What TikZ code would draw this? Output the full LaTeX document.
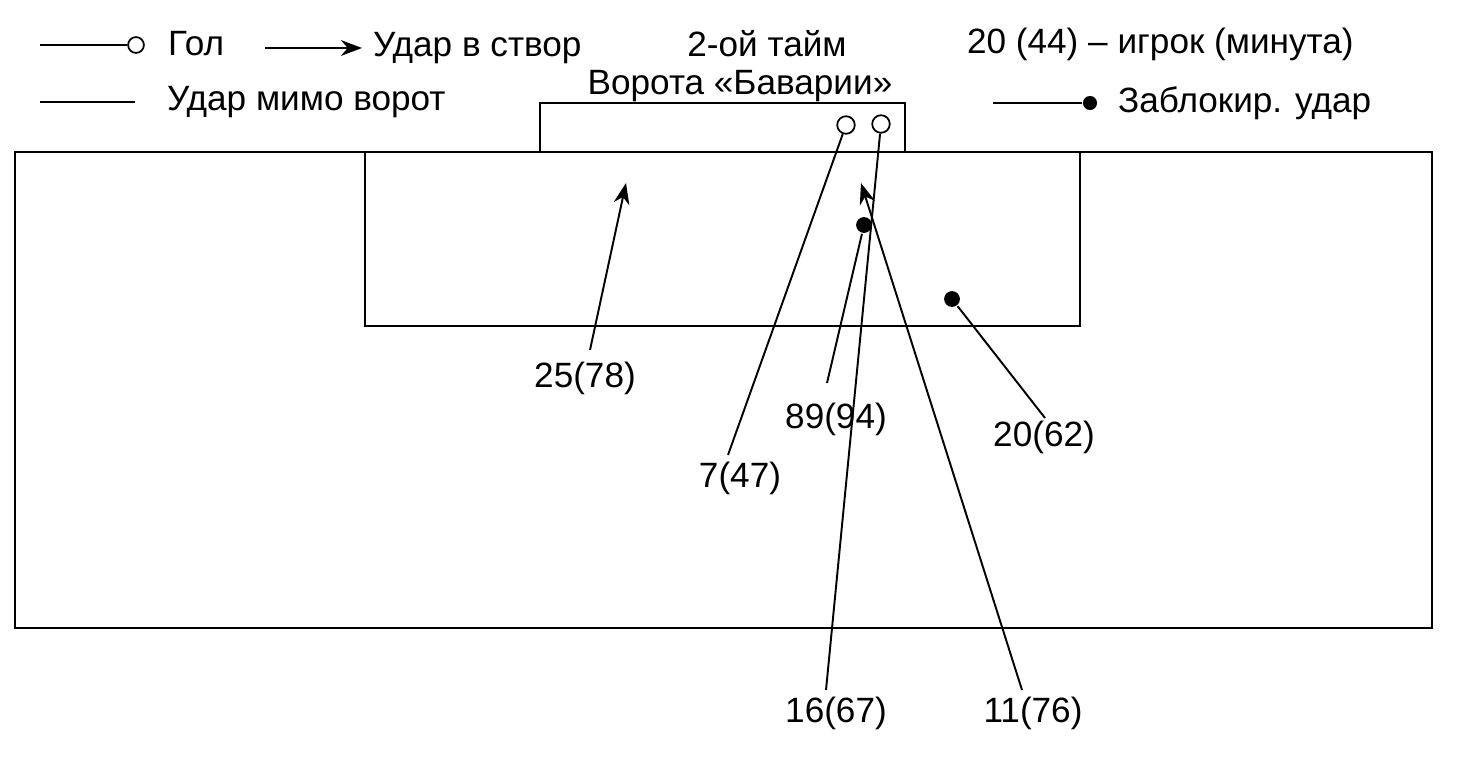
\documentclass[tikz,border=0pt]{standalone}
\usepackage{fontspec}
\setmainfont{Liberation Sans}
\usetikzlibrary{arrows.meta}
\begin{document}
\begin{tikzpicture}[x=0.02cm,y=-0.02cm,line width=1.3pt,
  lbl/.style={font=\fontsize{20}{24}\selectfont,inner sep=0pt},
  goal/.style={circle,draw,fill=white,line width=1pt,minimum size=10pt,inner sep=0pt},
  blk/.style={circle,fill=black,minimum size=9pt,inner sep=0pt},
  shot/.style={line width=1.1pt},
  arr/.style={line width=1.1pt,-{Stealth[length=12pt,width=9pt]}}]
\useasboundingbox (0,0) rectangle (1460,757);
\draw (15,152) rectangle (1432,628);
\draw (365,152) -- (365,326) -- (1080,326) -- (1080,152);
\draw (540,152) -- (540,103) -- (905,103) -- (905,152);
% legend
\coordinate (l1a) at (40,45); \node[goal,minimum size=9pt] (l1b) at (136,45) {};
\draw[shot] (l1a) -- (l1b);
\node[lbl,anchor=west] (t1) at (167,44) {Гол};
\coordinate (l2a) at (265,48); \coordinate (l2b) at (362,48);
\draw[arr] (l2a) -- (l2b);
\node[lbl,anchor=west] (t2) at (372,48) {Удар в створ};
\node[lbl] (t3) at (767,44) {2-ой тайм};
\node[lbl,anchor=west] (t4) at (966,44) {20 (44) – игрок (минута)};
\coordinate (l3a) at (40,102); \coordinate (l3b) at (135,102);
\draw[shot] (l3a) -- (l3b);
\node[lbl,anchor=west] (t5) at (166,102) {Удар мимо ворот};
\node[lbl] (t6) at (740,86) {Ворота «Баварии»};
\coordinate (l4a) at (993,103); \node[blk,minimum size=8pt] (l4b) at (1090,103) {};
\draw[shot] (l4a) -- (l4b);
\node[lbl,anchor=west] (t7) at (1117,103) {Заблокир. удар};
% shots
\node[lbl] (s1) at (585,378) {25(78)};
\coordinate (s1a) at (590,350); \coordinate (s1b) at (626,183);
\draw[arr] (s1a) -- (s1b);
\node[lbl] (s2) at (740,478) {7(47)};
\coordinate (s2a) at (728,455); \node[goal] (g1) at (846,125) {};
\draw[shot] (s2a) -- (g1);
\node[lbl] (s3) at (836,713) {16(67)};
\coordinate (s3a) at (826,690); \node[goal] (g2) at (881,124) {};
\draw[shot] (s3a) -- (g2);
\node[lbl] (s4) at (836,419) {89(94)};
\coordinate (s4a) at (827,383); \node[blk] (b1) at (864,225) {};
\draw[shot] (s4a) -- (b1);
\node[lbl] (s5) at (1033,713) {11(76)};
\coordinate (s5a) at (1022,690); \coordinate (s5b) at (861,183);
\draw[arr] (s5a) -- (s5b);
\node[lbl] (s6) at (1044,437) {20(62)};
\coordinate (s6a) at (1045,418); \node[blk] (b2) at (952,299) {};
\draw[shot] (s6a) -- (b2);
\end{tikzpicture}
\end{document}
